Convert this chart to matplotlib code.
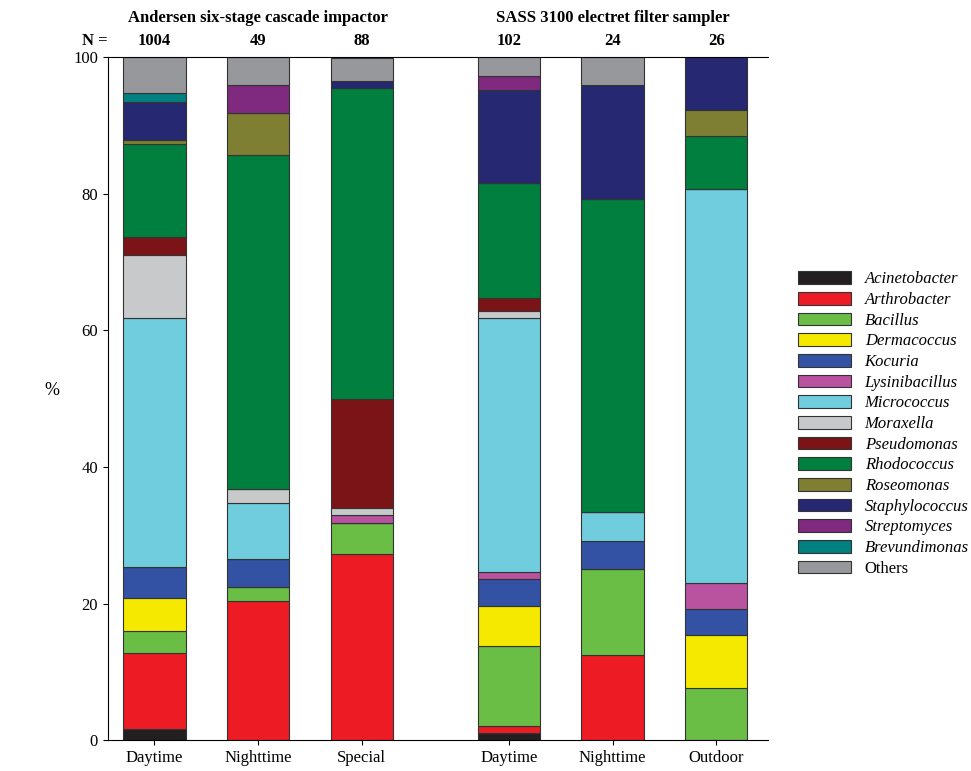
import matplotlib.pyplot as plt
import numpy as np

plt.rcParams['font.family'] = 'Liberation Serif'

groups = ['Daytime', 'Nighttime', 'Special', 'Daytime', 'Nighttime', 'Outdoor']
n_counts = ['1004', '49', '88', '102', '24', '26']
taxa = ['Acinetobacter', 'Arthrobacter', 'Bacillus', 'Dermacoccus', 'Kocuria',
        'Lysinibacillus', 'Micrococcus', 'Moraxella', 'Pseudomonas', 'Rhodococcus',
        'Roseomonas', 'Staphylococcus', 'Streptomyces', 'Brevundimonas', 'Others']
colors = ['#231f20', '#ed1c24', '#6abd45', '#f5e900', '#3452a4', '#b9529f',
          '#70cddd', '#c8c9cb', '#7b1416', '#007f3f', '#7f7f33', '#262872',
          '#7f2a7f', '#00807f', '#97989b']

# percent per taxon, one value per bar
acinetobacter = [1.7, 0, 0, 1.0, 0, 0]
arthrobacter = [11.0, 20.4, 27.3, 1.0, 12.5, 0]
bacillus = [3.3, 2.0, 4.5, 11.8, 12.5, 7.7]
dermacoccus = [4.8, 0, 0, 5.9, 0, 7.7]
kocuria = [4.5, 4.1, 0, 3.9, 4.2, 3.8]
lysinibacillus = [0, 0, 1.1, 1.0, 0, 3.8]
micrococcus = [36.5, 8.2, 0, 37.2, 4.2, 57.7]
moraxella = [9.2, 2.0, 1.1, 1.0, 0, 0]
pseudomonas = [2.6, 0, 15.9, 2.0, 0, 0]
rhodococcus = [13.7, 49.0, 45.5, 16.7, 45.8, 7.7]
roseomonas = [0.5, 6.1, 0, 0, 0, 3.8]
staphylococcus = [5.6, 0, 1.1, 13.7, 16.7, 7.8]
streptomyces = [0, 4.1, 0, 2.0, 0, 0]
brevundimonas = [1.3, 0, 0, 0, 0, 0]
others = [5.3, 4.1, 3.4, 2.9, 4.1, 0]

series = [acinetobacter, arthrobacter, bacillus, dermacoccus, kocuria, lysinibacillus,
          micrococcus, moraxella, pseudomonas, rhodococcus, roseomonas,
          staphylococcus, streptomyces, brevundimonas, others]

x = np.array([0, 1, 2, 3.42, 4.42, 5.42])

fig = plt.figure(figsize=(9.71, 7.71), dpi=100)
ax = fig.add_axes([0.111, 0.04, 0.68, 0.886])

bottom = np.zeros(len(x))
for name, vals, c in zip(taxa, series, colors):
    vals = np.array(vals)
    ax.bar(x, vals, 0.6, bottom=bottom, color=c, edgecolor='#333333', linewidth=0.8,
           label=name)
    bottom += vals

ax.set_xlim(-0.45, 5.92)
ax.set_ylim(0, 100)
ax.set_xticks(x)
ax.set_xticklabels(groups, fontsize=12)
ax.set_yticks([0, 20, 40, 60, 80, 100])
ax.tick_params(labelsize=12, direction='out')
ax.spines['right'].set_visible(False)
ax.set_ylabel('%', fontsize=13, rotation=0, labelpad=15)

for xi, n in zip(x, n_counts):
    ax.text(xi, 101.2, n, ha='center', va='bottom', fontsize=12, fontweight='bold')
ax.text(-0.45, 101.2, 'N =', ha='right', va='bottom', fontsize=12, fontweight='bold')
ax.text(1.0, 104.5, 'Andersen six-stage cascade impactor', ha='center', va='bottom',
        fontsize=12, fontweight='bold')
ax.text(4.42, 104.5, 'SASS 3100 electret filter sampler', ha='center', va='bottom',
        fontsize=12, fontweight='bold')

handles, labels = ax.get_legend_handles_labels()
leg = fig.legend(handles, labels, loc='center left', bbox_to_anchor=(0.815, 0.45),
                 frameon=False, fontsize=12, handlelength=3.2, handleheight=0.8,
                 labelspacing=0.27, borderaxespad=0)
for t in leg.get_texts()[:-1]:
    t.set_fontstyle('italic')

fig.savefig('out.png', dpi=100)
